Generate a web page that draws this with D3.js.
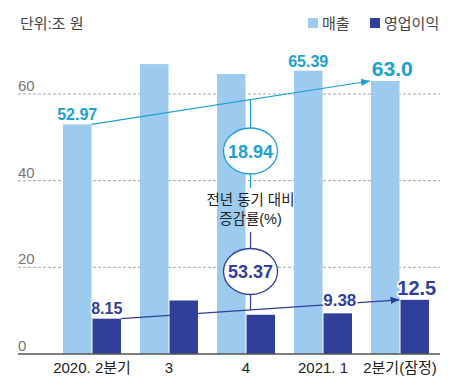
<!DOCTYPE html>
<html><head><meta charset="utf-8">
<script src="https://cdn.jsdelivr.net/npm/d3@7/dist/d3.min.js"></script>
<style>
html,body{margin:0;padding:0;background:#fff;}
svg{display:block;font-family:"Liberation Sans","Noto Sans CJK KR",sans-serif;}
</style></head>
<body>
<script>
const categories = ["2020. 2분기", "3", "4", "2021. 1", "2분기(잠정)"];
const sales = [52.97, 66.9, 64.6, 65.39, 63.0];
const opProfit = [8.15, 12.35, 9.05, 9.38, 12.5];
const salesLabels = ["52.97", null, null, "65.39", "63.0"];
const opLabels = ["8.15", null, null, "9.38", "12.5"];
const yTicks = [0, 20, 40, 60];
const seriesNames = ["매출", "영업이익"];
const yoyChange = ["18.94", "53.37"];
const yoyCaption = ["전년 동기 대비", "증감률(%)"];
const unitLabel = "단위:조 원";

const W = 458, H = 381;
const C_SALES = "#9dcaef", C_OP = "#303f99", C_CYAN = "#1ba0d3";
const svg = d3.select("body").append("svg").attr("width", W).attr("height", H);

const x = d3.scaleBand().domain(categories).range([53.5, 438.5]).paddingInner(0.2468).paddingOuter(0.1234);
const x1 = d3.scaleBand().domain(["s", "o"]).range([0, x.bandwidth()]).paddingInner(0.035);
const y = d3.scaleLinear().domain([0, 60]).range([354, 94]);

// gridlines
svg.append("g").selectAll("line").data(yTicks.filter(d => d > 0)).join("line")
  .attr("x1", 18).attr("x2", 440).attr("y1", d => y(d)).attr("y2", d => y(d))
  .attr("stroke", "#a8a8a8").attr("stroke-width", 1).attr("stroke-dasharray", "3,2");
svg.append("g").selectAll("text").data(yTicks).join("text")
  .attr("x", 18).attr("y", d => y(d) - 3).attr("fill", "#777").attr("font-size", 15)
  .text(d => d);

// bars
const g = svg.append("g").selectAll("g").data(categories).join("g")
  .attr("transform", d => `translate(${x(d)},0)`);
g.append("rect").attr("x", x1("s")).attr("width", x1.bandwidth())
  .attr("y", (d, i) => y(sales[i])).attr("height", (d, i) => y(0) - y(sales[i])).attr("fill", C_SALES);
g.append("rect").attr("x", x1("o")).attr("width", x1.bandwidth())
  .attr("y", (d, i) => y(opProfit[i])).attr("height", (d, i) => y(0) - y(opProfit[i])).attr("fill", C_OP);

// baseline
svg.append("line").attr("x1", 18).attr("x2", 440).attr("y1", y(0)).attr("y2", y(0))
  .attr("stroke", "#555").attr("stroke-width", 1.5);

// x labels
svg.append("g").selectAll("text").data(categories).join("text")
  .attr("x", d => x(d) + x.bandwidth() / 2).attr("y", 373).attr("text-anchor", "middle")
  .attr("font-size", 15).attr("fill", "#222").text(d => d);

// arrow markers
const defs = svg.append("defs");
[["arC", C_CYAN], ["arN", C_OP]].forEach(([id, c]) => {
  defs.append("marker").attr("id", id).attr("viewBox", "0 0 10 10").attr("refX", 10).attr("refY", 5)
    .attr("markerWidth", 9).attr("markerHeight", 9).attr("markerUnits", "userSpaceOnUse").attr("orient", "auto")
    .append("path").attr("d", "M0,1 L10,5 L0,9 Z").attr("fill", c);
});

const last = categories.length - 1;
const sx0 = x(categories[0]) + x1("s") + x1.bandwidth(), sy0 = y(sales[0]);
const sx1 = x(categories[last]) + x1("s") - 1, sy1 = y(sales[last]);
const ox0 = x(categories[0]) + x1("o") + x1.bandwidth(), oy0 = y(opProfit[0]);
const ox1 = x(categories[last]) + x1("o") - 1, oy1 = y(opProfit[last]);
svg.append("line").attr("x1", sx0).attr("y1", sy0).attr("x2", sx1).attr("y2", sy1)
  .attr("stroke", C_CYAN).attr("stroke-width", 1.2).attr("marker-end", "url(#arC)");
svg.append("line").attr("x1", ox0).attr("y1", oy0).attr("x2", ox1).attr("y2", oy1)
  .attr("stroke", C_OP).attr("stroke-width", 1.2).attr("marker-end", "url(#arN)");

// annotation column
const ax = x(categories[2]) + x1("o") + 4;
const lineY = (xa, ya, xb, yb, xx) => ya + (yb - ya) * (xx - xa) / (xb - xa);
const e1y = 151, e2y = 271.5, rx = 27, ry = 23;
svg.append("line").attr("x1", ax).attr("x2", ax).attr("y1", lineY(sx0, sy0, sx1, sy1, ax)).attr("y2", 188)
  .attr("stroke", C_CYAN).attr("stroke-width", 1.2);
svg.append("line").attr("x1", ax).attr("x2", ax).attr("y1", 232).attr("y2", lineY(ox0, oy0, ox1, oy1, ax))
  .attr("stroke", C_OP).attr("stroke-width", 1.2);
svg.append("ellipse").attr("cx", ax).attr("cy", e1y).attr("rx", rx).attr("ry", ry)
  .attr("fill", "#fff").attr("stroke", C_CYAN).attr("stroke-width", 1.3);
svg.append("ellipse").attr("cx", ax).attr("cy", e2y).attr("rx", rx).attr("ry", ry)
  .attr("fill", "#fff").attr("stroke", C_OP).attr("stroke-width", 1.3);
svg.append("text").attr("x", ax).attr("y", e1y + 6.5).attr("text-anchor", "middle")
  .attr("font-size", 18).attr("font-weight", "bold").attr("fill", C_CYAN).text(yoyChange[0]);
svg.append("text").attr("x", ax).attr("y", e2y + 6).attr("text-anchor", "middle")
  .attr("font-size", 18).attr("font-weight", "bold").attr("fill", C_OP).text(yoyChange[1]);
svg.append("g").selectAll("text").data(yoyCaption).join("text")
  .attr("x", ax).attr("y", (d, i) => 205 + i * 19).attr("text-anchor", "middle")
  .attr("font-size", 14.5).attr("fill", "#222").text(d => d);

// value labels
const sSize = [16, 0, 0, 16, 21], oSize = [16, 0, 0, 17, 20];
const sDx = [-1, 0, 0, 2, 0], oDx = [0, 0, 0, 0, 0];
svg.append("g").selectAll("text").data(categories).join("text")
  .attr("x", (d, i) => x(d) + x1("s") + x1.bandwidth() / 2 + (i === last ? 7 : 0))
  .attr("y", (d, i) => y(sales[i]) - (i === last ? 5 : 4))
  .attr("text-anchor", "middle").attr("font-weight", "bold").attr("fill", C_CYAN)
  .attr("font-size", (d, i) => sSize[i]).text((d, i) => salesLabels[i] || "");
svg.append("g").selectAll("text").data(categories).join("text")
  .attr("x", (d, i) => x(d) + x1("o") + x1.bandwidth() / 2 + (i === 3 ? 2 : 0) + (i === last ? 2 : 0))
  .attr("y", (d, i) => y(opProfit[i]) - (i === 3 ? 7 : 5))
  .attr("text-anchor", "middle").attr("font-weight", "bold").attr("fill", C_OP)
  .attr("stroke", "#fff").attr("stroke-width", 3).attr("paint-order", "stroke")
  .attr("font-size", (d, i) => oSize[i]).text((d, i) => opLabels[i] || "");

// header
svg.append("text").attr("x", 20).attr("y", 29).attr("font-size", 15).attr("fill", "#444").text(unitLabel);
const leg = svg.append("g");
const legX = [308, 370], legC = [C_SALES, C_OP];
seriesNames.forEach((n, i) => {
  leg.append("rect").attr("x", legX[i]).attr("y", 18).attr("width", 10).attr("height", 10).attr("fill", legC[i]);
  leg.append("text").attr("x", legX[i] + 14).attr("y", 29).attr("font-size", 15).attr("fill", "#444").text(n);
});
</script>
</body></html>
